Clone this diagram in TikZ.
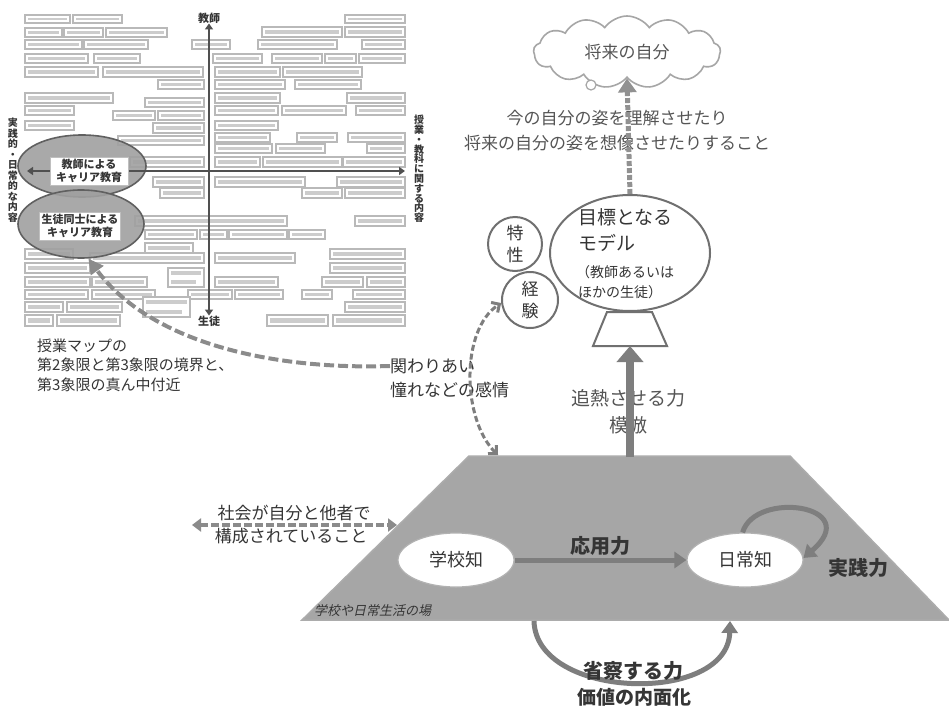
\documentclass[tikz,border=0pt]{standalone}
\usepackage{fontspec}
\setmainfont{Noto Sans CJK JP}
\newfontfamily\jpslant{Noto Sans CJK JP}[FakeSlant=0.22]
\usetikzlibrary{shapes.geometric,shapes.symbols,arrows.meta}
\definecolor{txt}{HTML}{353535}
\definecolor{txtl}{HTML}{555555}
\definecolor{linec}{HTML}{707070}
\definecolor{arrc}{HTML}{7E7E7E}
\definecolor{platc}{HTML}{A6A6A6}
\definecolor{ellc}{HTML}{A0A0A0}
\definecolor{axisc}{HTML}{505050}
\tikzset{
  fs/.style={font=\fontsize{#1}{#1}\selectfont},
  bfs/.style={font=\fontsize{#1}{#1}\selectfont\bfseries},
  lbl/.style={text=txt, inner sep=0pt, align=center},
  mapbox/.style={draw=gray!55, line width=1.2pt, fill=white},
  mapink/.style={fill=gray!40},
  mapell/.style={ellipse, draw=gray!75!black, line width=1.6pt, fill=ellc, fill opacity=0.9, draw opacity=1},
  mapwhite/.style={draw=gray!50, line width=0.8pt, fill=white, inner sep=2pt, align=center, text=txt,
     font=\fontsize{11}{13}\selectfont\bfseries},
  mapaxis/.style={draw=axisc, line width=2.4pt, {Triangle[length=6pt,width=8pt]}-{Triangle[length=6pt,width=8pt]}},
  vtxt/.style={text=txt, align=center, inner sep=0pt},
  wellipse/.style={ellipse, draw=linec, line width=2pt, fill=white},
  wcircle/.style={circle, draw=linec, line width=2pt, fill=white, align=center, inner sep=0pt},
  kell/.style={ellipse, draw=gray!60, line width=1.2pt, fill=white, minimum width=116pt, minimum height=54pt,
     text=txt, font=\fontsize{18}{20}\selectfont},
  bigarrow/.style={draw=arrc, line width=8pt, -{Triangle[length=16pt,width=26pt]}},
  midarrow/.style={draw=arrc, line width=5pt, -{Triangle[length=12pt,width=16pt]}},
  uparrow/.style={draw=arrc!85, line width=5pt, dash pattern=on 5pt off 2pt, -{Triangle[length=14pt,width=18pt]}},
  mapdash/.style={draw=arrc!90, line width=4pt, dash pattern=on 10pt off 4pt, -{Triangle[length=15pt,width=15pt]}},
  expdash/.style={draw=arrc, line width=3pt, dash pattern=on 6pt off 3pt,
     {Straight Barb[length=6pt,width=12pt]}-{Straight Barb[length=6pt,width=12pt]}},
  socdash/.style={draw=arrc!90, line width=4pt, dash pattern=on 8pt off 3pt,
     {Triangle[length=9pt,width=13pt]}-{Triangle[length=9pt,width=13pt]}},
}
\begin{document}
\begin{tikzpicture}[x=1pt,y=-1pt]
\useasboundingbox[fill=white] (0,0) rectangle (949,709);

% ---------------- class map (thumbnail) ----------------
\foreach \xa/\ya/\xb/\yb in {
25/15/70/23, 73/15/122/23, 345/15/405/23,
25/28/62/37, 64/28/103/37, 106/28/167/37, 262/27/342/37, 345/27/405/37,
25/40/82/49, 84/40/148/49, 192/40/230/49, 258/40/337/49, 362/40/405/49,
25/54/88/63, 94/54/140/63, 213/54/262/63, 272/54/322/63, 325/54/356/63, 359/54/405/63,
25/67/98/77, 103/67/203/77, 215/67/280/77, 283/67/362/77,
158/80/204/89, 215/80/285/89, 295/80/361/89,
25/93/113/103, 215/93/280/103, 347/93/405/103, 145/98/204/107,
25/106/74/115, 215/106/278/115, 282/106/346/115, 356/106/405/115,
113/111/155/120, 158/111/204/120,
25/121/74/130, 215/121/278/130, 153/123/204/133,
215/133/270/142, 297/133/337/142, 348/133/405/142, 118/136/204/145,
215/144/272/153, 276/144/325/153, 367/144/405/153,
130/157/204/167, 215/157/260/167, 263/157/342/167, 343/157/405/167,
153/177/204/187, 215/177/305/187, 337/177/405/187,
160/188/204/198, 302/188/342/198, 345/188/405/198,
135/216/287/226, 355/216/405/226,
145/230/197/239, 200/230/227/239, 229/230/287/239, 289/230/325/239,
145/243/193/253, 25/249/73/259, 330/249/405/259,
90/253/204/263, 215/253/295/263,
25/263/90/273, 330/263/405/273,
215/277/278/287, 25/277/90/287, 92/277/147/287, 322/277/363/287, 367/277/405/287,
25/290/88/299, 92/290/155/299, 188/290/232/299, 235/290/283/299, 302/290/332/299, 353/290/405/299,
25/302/63/312, 67/302/122/312, 345/302/405/312,
25/315/53/326, 57/315/120/326, 267/315/328/326, 333/315/405/326}
{
  \draw[mapbox] (\xa,\ya) rectangle (\xb,\yb);
  \fill[mapink] (\xa+3,\ya+3) rectangle (\xb-3,\yb-3);
}
% two-line boxes
\foreach \xa/\ya/\xb/\yb in {168/268/204/287, 143/297/190/317}
{
  \draw[mapbox] (\xa,\ya) rectangle (\xb,\yb);
  \fill[mapink] (\xa+3,\ya+3) rectangle (\xb-3,\ya+7);
  \fill[mapink] (\xa+3,\yb-7) rectangle (\xb-8,\yb-3);
}

\node[mapell, minimum width=128pt, minimum height=62pt] (e1) at (82,166) {};
\node[mapell, minimum width=126pt, minimum height=68pt] (e2) at (81,224) {};

\node[lbl, bfs=11] (teacher) at (209,18) {教師};
\node[lbl, bfs=11] (student) at (209,321) {生徒};
\draw[mapaxis] (teacher.south) -- (student.north);
\coordinate (hl) at (27,171);
\coordinate (hr) at (405,171);
\draw[mapaxis] (hl) -- (hr);

\node[mapwhite, minimum width=78pt, minimum height=28pt] (b1) at (89,171) {教師による\\キャリア教育};
\node[mapwhite, minimum width=76pt, minimum height=28pt] (b2) at (80,226) {生徒同士による\\キャリア教育};

\node[vtxt, font=\fontsize{10}{10.5}\selectfont\bfseries] (vl) at (13,170)
  {実\\践\\的\\・\\日\\常\\的\\な\\内\\容};
\node[vtxt, font=\fontsize{10}{9.8}\selectfont\bfseries] (vr) at (419,169)
  {授\\業\\・\\教\\科\\に\\関\\す\\る\\内\\容};

% caption of the map
\node[lbl, anchor=west, fs=15] (cap1) at (37,346) {授業マップの};
\node[lbl, anchor=west, fs=15] (cap2) at (37,365) {第2象限と第3象限の境界と、};
\node[lbl, anchor=west, fs=15] (cap3) at (37,385) {第3象限の真ん中付近};

% relation label
\node[lbl, anchor=west, fs=17] (kak1) at (390,366) {関わりあい};
\node[lbl, anchor=west, fs=17] (kak2) at (390,390) {憧れなどの感情};
\draw[mapdash] (kak1.west) .. controls (270,370) and (150,342) .. (e2.282);

% ---------------- platform ----------------
\coordinate (pTL) at (469,456);
\coordinate (pTR) at (790,456);
\coordinate (pBR) at (949,620);
\coordinate (pBL) at (302,620);
\filldraw[fill=platc, draw=gray!65, line width=1.5pt] (pTL) -- (pTR) -- (pBR) -- (pBL) -- cycle;
\node[text=txt, anchor=west, inner sep=0pt, font=\jpslant\fontsize{13}{15}\selectfont] (plab) at (314,611) {学校や日常生活の場};

\node[kell] (school) at (456,560) {学校知};
\node[kell] (daily) at (745,560) {日常知};
\draw[midarrow] (school) -- (daily);
\node[lbl, bfs=20] (apply) at (600,546) {応用力};
\draw[midarrow] (daily.95) .. controls (755,490) and (865,505) .. (daily.2);
\node[lbl, bfs=20] (jissen) at (858,568) {実践力};

\coordinate (bA) at (534,621);
\coordinate (bB) at (730,621);
\draw[midarrow] (bA) .. controls (536,700) and (728,705) .. (bB);
\node[lbl, bfs=20] (refl) at (633,671) {省察する力};
\node[lbl, bfs=19] (value) at (634,697) {価値の内面化};

\coordinate (sL) at (192,525);
\coordinate (sR) at (397,525);
\draw[socdash] (sL) -- (sR);
\node[lbl, fs=17] (soc1) at (294,513) {社会が自分と他者で};
\node[lbl, fs=17] (soc2) at (291,536) {構成されていること};

% ---------------- model ----------------
\node[wellipse, minimum width=160pt, minimum height=116pt] (model) at (630,253) {};
\node[lbl, anchor=west, fs=19] (m1) at (578,217) {目標となる};
\node[lbl, anchor=west, fs=19] (m2) at (578,243) {モデル};
\node[lbl, anchor=west, fs=14] (m3) at (576,272) {（教師あるいは};
\node[lbl, anchor=west, fs=14] (m4) at (578,292) {ほかの生徒）};

\draw[fill=white, draw=linec, line width=2pt] (607,312) -- (652,312) -- (667,346) -- (593,346) -- cycle;
\coordinate (pedB) at (630,346);

\node[wcircle, minimum size=54pt, text=txt, font=\fontsize{17}{22}\selectfont] (trait) at (515,244) {特\\性};
\node[wcircle, minimum size=56pt, text=txt, font=\fontsize{17}{22}\selectfont] (exp) at (530,300) {経\\験};

\coordinate (pTop) at (630,457);
\node[lbl, fs=19, text=txtl] (imit1) at (628,398) {追熱させる力};
\node[lbl, fs=19, text=txtl] (imit2) at (628,425) {模倣};
\draw[bigarrow] (pTop) -- (pedB);

\coordinate (pExp) at (498,455);
\draw[expdash] (pExp) .. controls (462,420) and (460,330) .. (exp.186);

% ---------------- future self ----------------
\node[cloud, cloud puffs=13, cloud puff arc=110, aspect=2.6, draw=gray!70, line width=1.6pt, fill=white,
      minimum width=187pt, minimum height=72pt, text=txtl, font=\fontsize{17}{20}\selectfont] (future) at (627,52) {将来の自分};
\node[circle, draw=gray!70, line width=1.2pt, fill=white, minimum size=10pt, inner sep=0pt] (bubble) at (591,85) {};

\node[lbl, fs=17, text=txtl] (now1) at (617,118) {今の自分の姿を理解させたり};
\node[lbl, fs=17, text=txtl] (now2) at (617,143) {将来の自分の姿を想像させたりすること};
\draw[uparrow] (model.north) -- (future.south);
\end{tikzpicture}
\end{document}
